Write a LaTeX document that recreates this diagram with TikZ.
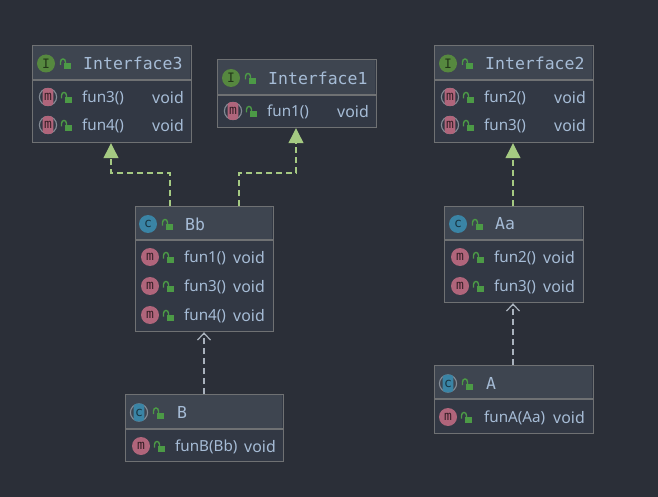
\documentclass[tikz,border=0pt]{standalone}
\usepackage{fontspec}
\setmainfont{Noto Sans}
\newfontfamily\titlefont{DejaVu Sans Mono}
\usetikzlibrary{arrows.meta,calc}
\definecolor{bgc}{HTML}{2B2F38}
\definecolor{bodyc}{HTML}{323844}
\definecolor{headc}{HTML}{3E4550}
\definecolor{edgec}{HTML}{6F7173}
\definecolor{txtc}{HTML}{A6BCD6}
\definecolor{implc}{HTML}{A5CA82}
\definecolor{depc}{HTML}{A9B2BD}
\definecolor{ibl}{HTML}{56883F}
\definecolor{cbl}{HTML}{3A84A5}
\definecolor{mbl}{HTML}{B0657B}
\definecolor{lockc}{HTML}{4C9A46}
\tikzset{
  boxframe/.style={draw=edgec,line width=1.2pt,fill=bodyc,rectangle,inner sep=0pt,anchor=north west},
  titletext/.style={text=txtc,font=\titlefont\fontsize{16.5}{18}\selectfont,anchor=west,inner sep=0pt},
  membertext/.style={text=txtc,font=\fontsize{15.2}{17}\selectfont,anchor=west,inner sep=0pt},
  typetext/.style={text=txtc,font=\fontsize{15.9}{17}\selectfont,anchor=west,inner sep=0pt},
  icontext/.style={inner sep=0pt,font=\titlefont\fontsize{13}{13}\selectfont},
  impl/.style={draw=implc,line width=1.2pt,dash pattern=on 6pt off 4pt,-{Triangle[length=15pt,width=15pt,fill=implc,color=implc,sep=0pt]}},
  dep/.style={draw=depc,line width=1.2pt,dash pattern=on 6pt off 4pt,-{Straight Barb[length=7pt,width=13pt,color=depc,line width=1.2pt]}}
}
% name, x0, y0, x1, y1, header bottom
\newcommand{\umlbox}[6]{%
  \node[boxframe,minimum width=#4pt-#2pt,minimum height=#5pt-#3pt] (#1) at (#2,#3) {};
  \fill[headc] (#2+.6,#3+.6) rectangle (#4-.6,#6);
  \draw[edgec,line width=1.2pt] (#2,#6) -- (#4,#6);
}
\newcommand{\lockicon}[2]{%
  \fill[lockc] (#1-2,#2) rectangle (#1+5,#2+6);
  \draw[lockc,line width=1.4pt] (#1-5.5,#2+1.5) -- (#1-5.5,#2-1.5) .. controls (#1-5.5,#2-5.5) and (#1-.5,#2-5.5) .. (#1-.5,#2-1.5) -- (#1-.5,#2+.5);
}
% plain round icon: x,y,colour,letter,text colour
\newcommand{\roundicon}[5]{%
  \fill[#3] (#1,#2) circle[radius=9];
  \node[icontext,text=#5] at (#1,#2) {#4};
}
% abstract pill icon
\newcommand{\pillicon}[5]{%
  \draw[depc!70!bgc,line width=1.1pt] (#1,#2) circle[radius=8.6];
  \fill[#3,rounded corners=3pt] (#1-5.4,#2-8.8) rectangle (#1+5.4,#2+8.8);
  \node[icontext,text=#5] at (#1,#2) {#4};
}
\newcommand{\memberrow}[6]{% icon x, y, name x, name, type x, kind
  \csname #6icon\endcsname{#1}{#2}{mbl}{m}{black!70!mbl}
  \lockicon{#1+19}{#2}
  \node[membertext] at (#3,#2+.5) {#4};
  \node[typetext] at (#5,#2+.5) {void};
}
\begin{document}
\begin{tikzpicture}[x=1pt,y=-1pt]
\useasboundingbox (0,0) rectangle (658,497);
\fill[bgc] (0,0) rectangle (658,497);
% Interface3
\umlbox{interfaceThree}{32}{45}{191}{142}{80}
\roundicon{46}{63.5}{ibl}{I}{black!60!ibl}
\lockicon{66}{63.5}
\node[titletext] (t3) at (83,63.5) {Interface3};
\memberrow{48}{97}{82}{fun3()}{152}{pill}
\memberrow{48}{125}{82}{fun4()}{152}{pill}
% Interface1
\umlbox{interfaceOne}{217}{59}{376}{127}{95}
\roundicon{231}{78}{ibl}{I}{black!60!ibl}
\lockicon{251}{78}
\node[titletext] (t1) at (268,78) {Interface1};
\memberrow{233}{111}{267}{fun1()}{337}{pill}
% Interface2
\umlbox{interfaceTwo}{434}{45}{593}{142}{80}
\roundicon{448}{63.5}{ibl}{I}{black!60!ibl}
\lockicon{468}{63.5}
\node[titletext] (t2) at (485,63.5) {Interface2};
\memberrow{450}{97}{484}{fun2()}{554}{pill}
\memberrow{450}{125}{484}{fun3()}{554}{pill}
% Bb
\umlbox{Bb}{135}{206}{273}{331}{240}
\roundicon{148}{224}{cbl}{c}{black!60!cbl}
\lockicon{168}{224}
\node[titletext] (tb) at (185,224) {Bb};
\memberrow{150}{257}{184}{fun1()}{233}{round}
\memberrow{150}{286}{184}{fun3()}{233}{round}
\memberrow{150}{315}{184}{fun4()}{233}{round}
% Aa
\umlbox{Aa}{444}{206}{583}{302}{240}
\roundicon{458}{224}{cbl}{c}{black!60!cbl}
\lockicon{478}{224}
\node[titletext] (ta) at (495,224) {Aa};
\memberrow{460}{257}{494}{fun2()}{543}{round}
\memberrow{460}{286}{494}{fun3()}{543}{round}
% B
\umlbox{B}{125}{394}{283}{461}{429}
\pillicon{139}{412.5}{cbl}{c}{black!60!cbl}
\lockicon{159}{412.5}
\node[titletext] (tbb) at (177,412.5) {B};
\memberrow{141}{446}{175}{funB(Bb)}{244}{round}
% A
\umlbox{A}{434}{365}{593}{433}{399}
\pillicon{448}{383.5}{cbl}{c}{black!60!cbl}
\lockicon{468}{383.5}
\node[titletext] (tab) at (486,383.5) {A};
\memberrow{448}{417}{484}{funA(Aa)}{553}{round}
% connectors
\coordinate (bbl) at ($(Bb.north west)+(35,0)$);
\coordinate (bbr) at ($(Bb.north west)+(104,0)$);
\coordinate (i3b) at ($(interfaceThree.south west)+(79,0)$);
\coordinate (i1b) at ($(interfaceOne.south west)+(79,0)$);
\coordinate (i2b) at ($(interfaceTwo.south west)+(79,0)$);
\coordinate (aat) at ($(Aa.north west)+(69,0)$);
\coordinate (aab) at ($(Aa.south west)+(69,0)$);
\coordinate (at) at ($(A.north west)+(79,0)$);
\coordinate (bt) at ($(B.north west)+(79,0)$);
\coordinate (bbb) at ($(Bb.south west)+(69,0)$);
\draw[impl] (bbl) |- ++(-59,-33) -- (i3b);
\draw[impl] (bbr) |- ++(57,-33) -- (i1b);
\draw[impl] (aat) -- (i2b);
\draw[dep] (at) -- (aab);
\draw[dep] (bt) -- (bbb);
\end{tikzpicture}
\end{document}
